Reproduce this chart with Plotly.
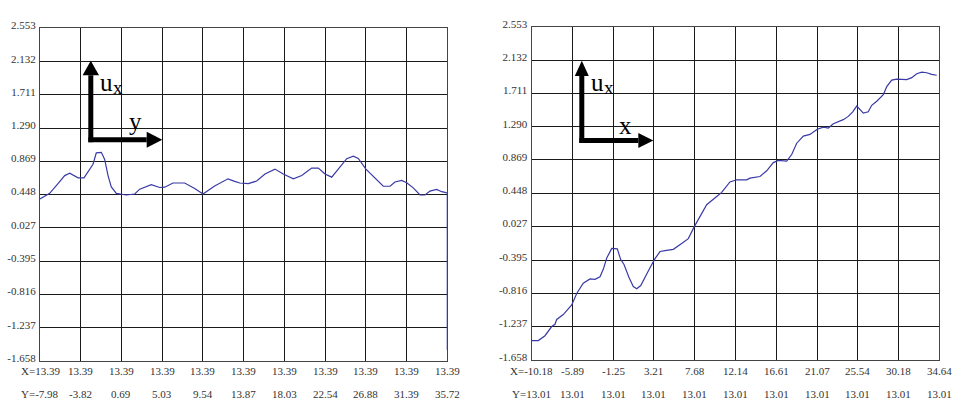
import numpy as np
import plotly.graph_objects as go

# ---------------- data ----------------
y_ticks = [2.553, 2.132, 1.711, 1.290, 0.869, 0.448, 0.027, -0.395, -0.816, -1.237, -1.658]
y_tick_text = ["2.553", "2.132", "1.711", "1.290", "0.869", "0.448", "0.027", "-0.395", "-0.816", "-1.237", "-1.658"]

# left chart (scan along y at X=13.39)
left_row1 = ["X=13.39", "13.39", "13.39", "13.39", "13.39", "13.39", "13.39", "13.39", "13.39", "13.39", "13.39"]
left_row2 = ["Y=-7.98", "-3.82", "0.69", "5.03", "9.54", "13.87", "18.03", "22.54", "26.88", "31.39", "35.72"]
left_pos = [-7.98, 35.72]
left_x = [-7.98, -6.94, -6.05, -5.33, -4.79, -3.90, -3.26, -2.65, -2.29, -1.94, -1.40, -1.04, -0.68,
          -0.33, 0.21, 1.28, 2.18, 2.72, 3.96, 4.86, 5.40, 6.29, 7.54, 8.62, 9.51, 10.76, 12.19,
          12.91, 13.45, 14.37, 15.27, 16.16, 17.23, 18.12, 19.20, 20.10, 21.17, 21.88, 22.60,
          23.32, 24.02, 24.93, 25.63, 26.17, 26.99, 27.96, 28.85, 29.57, 30.11, 30.83, 31.36,
          32.07, 32.79, 33.33, 33.86, 34.58, 35.12, 35.58, 35.72, 35.72]
left_u = [0.394, 0.464, 0.587, 0.689, 0.718, 0.661, 0.661, 0.771, 0.833, 0.977, 0.984, 0.894, 0.689,
          0.546, 0.464, 0.443, 0.456, 0.517, 0.575, 0.538, 0.542, 0.595, 0.595, 0.525, 0.456, 0.558,
          0.648, 0.615, 0.595, 0.587, 0.620, 0.710, 0.771, 0.710, 0.648, 0.689, 0.784, 0.784, 0.710,
          0.669, 0.771, 0.903, 0.935, 0.906, 0.771, 0.657, 0.554, 0.554, 0.608, 0.628, 0.599,
          0.534, 0.443, 0.443, 0.492, 0.513, 0.485, 0.473, 0.470, -1.52]

# right chart (scan along x at Y=13.01)
right_row1 = ["X=-10.18", "-5.89", "-1.25", "3.21", "7.68", "12.14", "16.61", "21.07", "25.54", "30.18", "34.64"]
right_row2 = ["Y=13.01", "13.01", "13.01", "13.01", "13.01", "13.01", "13.01", "13.01", "13.01", "13.01", "13.01"]
right_pos = [-10.18, 34.64]
right_x = [-10.18, -9.45, -8.72, -7.98, -7.62, -7.43, -6.71, -5.78, -5.23, -4.51, -3.77, -3.22, -2.67,
           -2.31, -1.93, -1.38, -0.77, -0.39, -0.03, 0.52, 0.99, 1.37, 1.81, 2.28, 2.83, 3.38, 3.93,
           4.48, 5.39, 6.31, 7.04, 7.70, 8.33, 9.06, 10.16, 10.71, 11.62, 12.36, 13.46, 13.82, 14.92,
           15.66, 16.39, 16.94, 17.86, 18.41, 18.96, 19.69, 20.42, 21.22, 21.89, 22.44, 22.99, 24.08,
           24.63, 25.12, 25.56, 25.92, 26.29, 26.83, 27.21, 27.76, 28.48, 28.86, 29.41, 29.96, 30.51,
           31.06, 31.61, 32.16, 32.71, 33.26, 33.81, 34.36, 34.64]
right_u = [-1.413, -1.413, -1.352, -1.236, -1.208, -1.147, -1.085, -0.963, -0.819, -0.689, -0.635, -0.640,
           -0.607, -0.513, -0.370, -0.248, -0.255, -0.390, -0.451, -0.616, -0.730, -0.758, -0.718, -0.607,
           -0.493, -0.378, -0.288, -0.276, -0.260, -0.187, -0.125, 0.027, 0.162, 0.304, 0.407, 0.460,
           0.591, 0.619, 0.619, 0.640, 0.660, 0.733, 0.836, 0.864, 0.856, 0.938, 1.081, 1.171, 1.192,
           1.257, 1.285, 1.273, 1.327, 1.379, 1.420, 1.478, 1.551, 1.511, 1.462, 1.478, 1.560, 1.612,
           1.695, 1.796, 1.879, 1.891, 1.886, 1.886, 1.910, 1.959, 1.980, 1.972, 1.952, 1.940]
right_x = right_x[:len(right_u)]

# ---------------- layout helpers ----------------
W, H = 954, 403
FONT = "Liberation Serif, Times New Roman, serif"
LINE_COLOR = "#3a3aa6"
GRID = "#1a1a1a"

def px(x):
    return x / W

def py(y):
    return 1 - y / H

fig = go.Figure()
fig.add_trace(go.Scatter(x=left_x, y=left_u, mode="lines", line=dict(color=LINE_COLOR, width=1.2),
                         xaxis="x", yaxis="y", showlegend=False, hoverinfo="skip"))
fig.add_trace(go.Scatter(x=right_x, y=right_u, mode="lines", line=dict(color=LINE_COLOR, width=1.2),
                         xaxis="x2", yaxis="y2", showlegend=False, hoverinfo="skip"))

left_grid = list(np.linspace(left_pos[0], left_pos[1], 11))
right_grid = list(np.linspace(right_pos[0], right_pos[1], 11))

xcommon = dict(showgrid=True, gridcolor=GRID, gridwidth=1.3, showline=True, mirror=True,
               linecolor="#444", linewidth=1.3, showticklabels=False, ticks="", zeroline=False)
ycommon = dict(showgrid=True, gridcolor=GRID, gridwidth=1.3, showline=True, mirror=True,
               linecolor="#444", linewidth=1.3, ticks="", zeroline=False,
               range=[-1.658, 2.553], tickvals=y_ticks, ticktext=y_tick_text,
               tickfont=dict(family=FONT, size=11, color="#333"), ticklabelstandoff=1,
               ticklabelshift=-3)

fig.update_layout(
    width=W, height=H, margin=dict(l=0, r=0, t=0, b=0),
    paper_bgcolor="white", plot_bgcolor="white",
    xaxis=dict(xcommon, domain=[px(40), px(447.3)], range=left_pos, tickvals=left_grid, anchor="y"),
    yaxis=dict(ycommon, domain=[py(362.7), py(20)], anchor="x"),
    xaxis2=dict(xcommon, domain=[px(531.7), px(939.3)], range=right_pos, tickvals=right_grid, anchor="y2"),
    yaxis2=dict(ycommon, domain=[py(361.7), py(18.3)], anchor="x2"),
)

lab_font = dict(family=FONT, size=11, color="#333")
ann = []
for xv, t1, t2 in zip(left_grid, left_row1, left_row2):
    ann.append(dict(x=xv, y=py(373), xref="x", yref="paper", text=t1, showarrow=False,
                    font=lab_font, yanchor="middle"))
    ann.append(dict(x=xv, y=py(397), xref="x", yref="paper", text=t2, showarrow=False,
                    font=lab_font, yanchor="middle"))
for xv, t1, t2 in zip(right_grid, right_row1, right_row2):
    ann.append(dict(x=xv, y=py(373), xref="x2", yref="paper", text=t1, showarrow=False,
                    font=lab_font, yanchor="middle"))
    ann.append(dict(x=xv, y=py(397), xref="x2", yref="paper", text=t2, showarrow=False,
                    font=lab_font, yanchor="middle"))

# axis symbols
def arrow_shapes(cx, cy, vtip, vbase, vhw, htip, hbase, hhw):
    s = []
    s.append(dict(type="line", xref="paper", yref="paper", x0=px(cx), x1=px(cx), y0=py(cy + 2.5),
                  y1=py(vbase), line=dict(color="black", width=5)))
    s.append(dict(type="path", xref="paper", yref="paper",
                  path=f"M {px(cx - vhw)} {py(vbase)} L {px(cx + vhw)} {py(vbase)} L {px(cx)} {py(vtip)} Z",
                  fillcolor="black", line=dict(color="black", width=0)))
    s.append(dict(type="line", xref="paper", yref="paper", x0=px(cx - 2.5), x1=px(hbase), y0=py(cy),
                  y1=py(cy), line=dict(color="black", width=5)))
    s.append(dict(type="path", xref="paper", yref="paper",
                  path=f"M {px(hbase)} {py(cy - hhw)} L {px(hbase)} {py(cy + hhw)} L {px(htip)} {py(cy)} Z",
                  fillcolor="black", line=dict(color="black", width=0)))
    return s

shapes = arrow_shapes(90.8, 134.8, 53.3, 68.3, 8.2, 162.3, 146.7, 8.3)
shapes += arrow_shapes(581.8, 135.5, 53.3, 69, 7, 653.3, 638.3, 7.8)
fig.update_layout(shapes=shapes)

sym_font = dict(family=FONT, size=25, color="black")
sub_font = dict(family=FONT, size=19, color="black")
for ux, sx in [(106, 117.5), (597.5, 608.5)]:
    ann.append(dict(x=px(ux), y=py(76), xref="paper", yref="paper", text="u", showarrow=False,
                    font=sym_font, xanchor="center", yanchor="middle"))
    ann.append(dict(x=px(sx), y=py(81), xref="paper", yref="paper", text="x", showarrow=False,
                    font=sub_font, xanchor="center", yanchor="middle"))
ann.append(dict(x=px(135.5), y=py(116), xref="paper", yref="paper", text="y", showarrow=False,
                font=sym_font, xanchor="center", yanchor="middle"))
ann.append(dict(x=px(625), y=py(120), xref="paper", yref="paper", text="x", showarrow=False,
                font=sym_font, xanchor="center", yanchor="middle"))
fig.update_layout(annotations=ann)

fig.write_html("out.html", config={"displayModeBar": False},
               post_script="document.body.style.margin='0';document.body.style.overflow='hidden';")
